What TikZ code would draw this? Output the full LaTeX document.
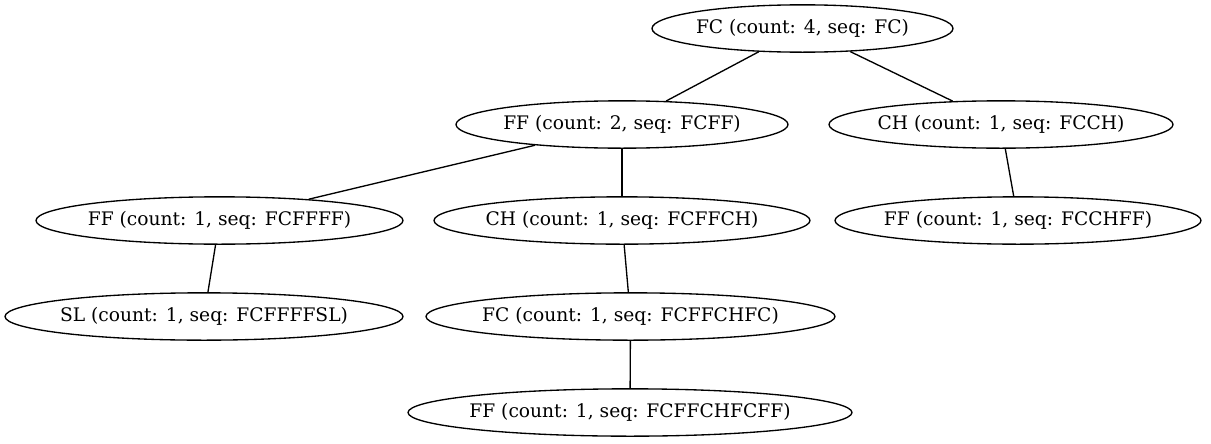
\documentclass[tikz,border=0pt]{standalone}
\usepackage{fontspec}
\setmainfont{DejaVu Serif}
\usetikzlibrary{shapes.geometric}
\newcommand{\zw}[1]{\makebox[0pt]{#1}}
\begin{document}
\begin{tikzpicture}[x=0.75pt,y=-0.75pt,
  tn/.style={draw, ellipse, line width=1pt, inner sep=0pt, minimum height=35.5pt, font=\fontsize{14}{16}\selectfont},
  edge/.style={line width=1pt}]
\useasboundingbox (0,0) rectangle (1211,443);
\node[tn, minimum width=301*0.75pt] (n1) at (802.5,28.5) {\zw{FC (count: 4, seq: FC)}};
\node[tn, minimum width=332*0.75pt] (n2) at (622,124.5) {\zw{FF (count: 2, seq: FCFF)}};
\node[tn, minimum width=344*0.75pt] (n3) at (1001,124.5) {\zw{CH (count: 1, seq: FCCH)}};
\node[tn, minimum width=367*0.75pt] (n4) at (219.5,220.5) {\zw{FF (count: 1, seq: FCFFFF)}};
\node[tn, minimum width=376*0.75pt] (n5) at (622,220.5) {\zw{CH (count: 1, seq: FCFFCH)}};
\node[tn, minimum width=366*0.75pt] (n6) at (1018,220.5) {\zw{FF (count: 1, seq: FCCHFF)}};
\node[tn, minimum width=398*0.75pt] (n7) at (204,316.5) {\zw{SL (count: 1, seq: FCFFFFSL)}};
\node[tn, minimum width=409*0.75pt] (n8) at (630.5,316.5) {\zw{FC (count: 1, seq: FCFFCHFC)}};
\node[tn, minimum width=444*0.75pt] (n9) at (630,412.5) {\zw{FF (count: 1, seq: FCFFCHFCFF)}};
\draw[edge] (n1) -- (n2);
\draw[edge] (n1) -- (n3);
\draw[edge] (n2) -- (n4);
\draw[edge] (n2) -- (n5);
\draw[edge] (n3) -- (n6);
\draw[edge] (n4) -- (n7);
\draw[edge] (n5) -- (n8);
\draw[edge] (n8) -- (n9);
\end{tikzpicture}
\end{document}
